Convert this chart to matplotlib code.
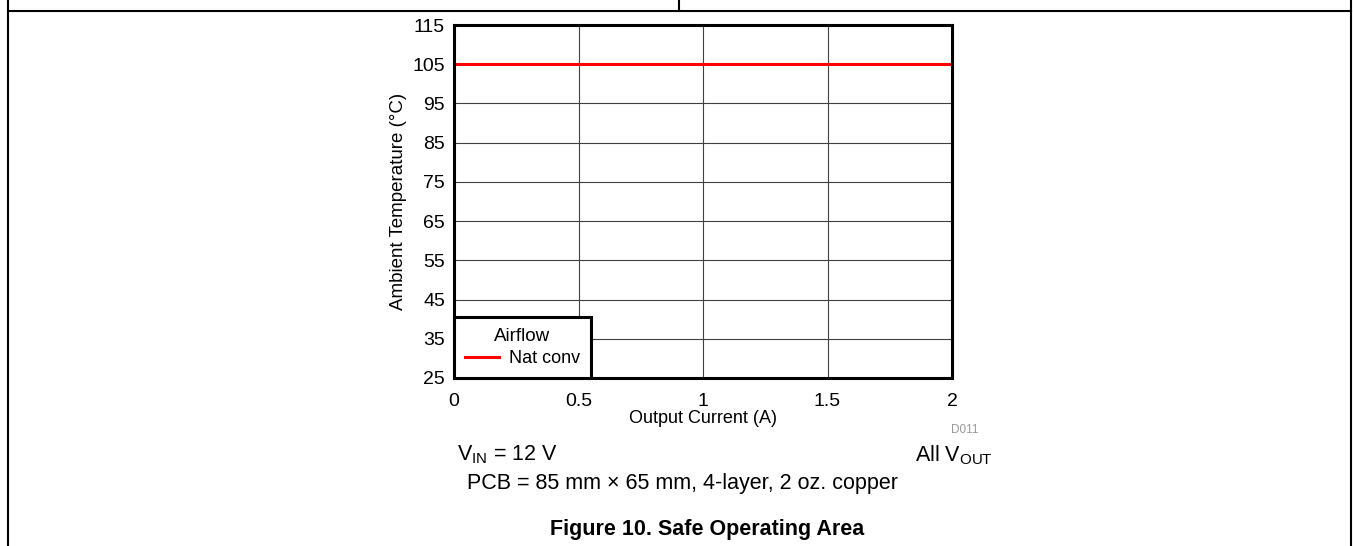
import matplotlib.pyplot as plt

plt.rcParams['font.family'] = ['Liberation Sans', 'DejaVu Sans']

# data
current = [0, 0.5, 1, 1.5, 2]
temp_natconv = [105, 105, 105, 105, 105]
xticks = [0, 0.5, 1, 1.5, 2]
xticklabels = ['0', '0.5', '1', '1.5', '2']
yticks = [25, 35, 45, 55, 65, 75, 85, 95, 105, 115]

fig = plt.figure(figsize=(13.53, 5.46), dpi=100)
ax = fig.add_axes([454 / 1353, 1 - 378 / 546, (952 - 454) / 1353, (378 - 25) / 546])

ax.plot(current, temp_natconv, color='#ff0000', lw=2.2, label='Nat conv')

ax.set_xlim(0, 2)
ax.set_ylim(25, 115)
ax.set_xticks(xticks)
ax.set_xticklabels(xticklabels)
ax.set_yticks(yticks)
ax.tick_params(length=0, labelsize=14)
ax.tick_params(axis='x', pad=10.5)
ax.tick_params(axis='y', pad=6.5)
ax.grid(True, color='#404040', lw=0.8)
for s in ax.spines.values():
    s.set_linewidth(2.2)

ax.set_xlabel('Output Current (A)', fontsize=13, labelpad=0)
ax.set_ylabel('Ambient Temperature (°C)', fontsize=13.5, labelpad=4)

leg = ax.legend(title='Airflow', loc='lower left', fontsize=13, title_fontsize=13.5,
                fancybox=False, framealpha=1, borderaxespad=0, handlelength=1.9,
                handletextpad=0.55, borderpad=0.6, labelspacing=0.3)
leg.get_frame().set_edgecolor('black')
leg.get_frame().set_linewidth(2.2)

# annotations under the chart
fig.text(965 / 1353, 1 - 430 / 546, 'D011', fontsize=8.5, color='#999999', ha='center', va='center')
fig.text(457 / 1353, 1 - 455 / 546, r'V$_{\mathregular{IN}}$ = 12 V', fontsize=15.5, ha='left', va='center')
fig.text(993 / 1353, 1 - 455 / 546, r'All V$_{\mathregular{OUT}}$', fontsize=15.5, ha='right', va='center')
fig.text(467 / 1353, 1 - 483 / 546, 'PCB = 85 mm × 65 mm, 4-layer, 2 oz. copper', fontsize=15.5,
         ha='left', va='center')
fig.text(707 / 1353, 1 - 530 / 546, 'Figure 10. Safe Operating Area', fontsize=15.5,
         fontweight='bold', ha='center', va='center')

# table borders of the page
fig.add_artist(plt.Line2D([8 / 1353, 8 / 1353], [0, 1], color='black', lw=1.5, transform=fig.transFigure))
fig.add_artist(plt.Line2D([1351 / 1353, 1351 / 1353], [0, 1], color='black', lw=1.5, transform=fig.transFigure))
fig.add_artist(plt.Line2D([8 / 1353, 1351 / 1353], [1 - 11 / 546, 1 - 11 / 546], color='black', lw=1.5,
                          transform=fig.transFigure))
fig.add_artist(plt.Line2D([679 / 1353, 679 / 1353], [1 - 11 / 546, 1], color='black', lw=1.5,
                          transform=fig.transFigure))

fig.savefig('out.png', dpi=100)
